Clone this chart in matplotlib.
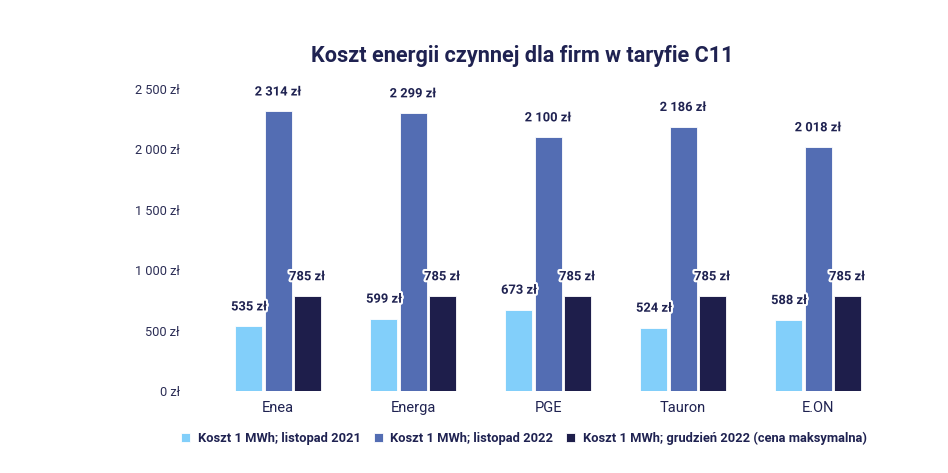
import matplotlib
matplotlib.use('Agg')
import matplotlib.pyplot as plt
import matplotlib.patheffects as pe
import numpy as np

plt.rcParams['font.family'] = ['Roboto', 'DejaVu Sans']

firms = ['Enea', 'Energa', 'PGE', 'Tauron', 'E.ON']
cost_2021 = [535, 599, 673, 524, 588]
cost_2022 = [2314, 2299, 2100, 2186, 2018]
cost_max = [785, 785, 785, 785, 785]
series_names = ['Koszt 1 MWh; listopad 2021', 'Koszt 1 MWh; listopad 2022',
                'Koszt 1 MWh; grudzień 2022 (cena maksymalna)']
yticks = [0, 500, 1000, 1500, 2000, 2500]

colors = ['#82CFFA', '#536DB3', '#1E1E4B']
navy = '#1F2251'


def fmt(v):
    return '{:,}'.format(v).replace(',', ' ') + ' zł'


fig = plt.figure(figsize=(9.48, 4.73), dpi=100)
ax = fig.add_axes([278 / 948 - 0.5 * 135 / 948, 1 - 391 / 473, 5 * 135 / 948, (391 - 89) / 473])

x = np.arange(len(firms))
w = 0.2
offs = [-0.215, 0, 0.215]
for data, off, c, name in zip([cost_2021, cost_2022, cost_max], offs, colors, series_names):
    bars = ax.bar(x + off, data, w, color=c, label=name, edgecolor='white', linewidth=0.6)
    for b, v in zip(bars, data):
        ax.annotate(fmt(v), (b.get_x() + b.get_width() / 2, v), xytext=(0, 14),
                    textcoords='offset points', ha='center', va='center',
                    fontsize=9.3, fontweight='bold', color=navy,
                    path_effects=[pe.withStroke(linewidth=3, foreground='white')])

ax.set_xlim(-0.5, 4.5)
ax.set_ylim(0, 2500)
ax.set_yticks(yticks)
ax.set_yticklabels([fmt(v) for v in yticks], fontsize=9.2, color='#2B2D55')
ax.set_xticks(x)
ax.set_xticklabels(firms, fontsize=10.5, color=navy)
ax.tick_params(axis='y', length=0, pad=22)
ax.tick_params(axis='x', length=0, pad=7)
for s in ax.spines.values():
    s.set_visible(False)

fig.text(522 / 948, 1 - 56 / 473, 'Koszt energii czynnej dla firm w taryfie C11',
         ha='center', va='center', fontsize=15.6, fontweight='bold', color=navy)

fig.legend(loc='center', bbox_to_anchor=(524 / 948, 1 - 438 / 473), ncol=3, frameon=False,
           prop={'family': ['Liberation Sans Narrow', 'Roboto'], 'size': 9.3, 'weight': 'bold'},
           labelcolor=navy, handlelength=0.7, handleheight=0.7, handletextpad=0.6,
           columnspacing=1.0)

fig.savefig('out.png', dpi=100)
